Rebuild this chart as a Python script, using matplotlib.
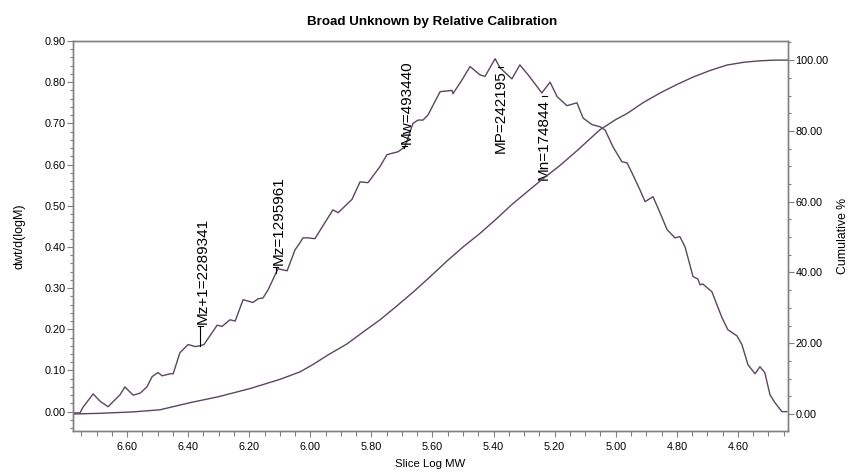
"""
Broad Unknown by Relative Calibration - MWD plot with cumulative curve.
"""

import numpy as np
import matplotlib
matplotlib.use('Agg')
import matplotlib.pyplot as plt
from matplotlib.ticker import MultipleLocator, FormatStrFormatter

plt.rcParams['font.family'] = ['Liberation Sans', 'DejaVu Sans']

# Differential distribution (dwt/d(logM))
log_mw = [6.777, 6.754, 6.745, 6.711, 6.688, 6.662, 6.646, 6.623, 6.607, 6.580,
          6.557, 6.535, 6.518, 6.499, 6.485, 6.459, 6.449, 6.427, 6.400, 6.377,
          6.361, 6.348, 6.305, 6.289, 6.263, 6.246, 6.220, 6.197, 6.188, 6.171,
          6.155, 6.138, 6.106, 6.076, 6.050, 6.034, 6.024, 6.008, 5.985, 5.926,
          5.909, 5.864, 5.837, 5.811, 5.772, 5.749, 5.729, 5.713, 5.690, 5.664,
          5.647, 5.631, 5.615, 5.575, 5.536, 5.533, 5.503, 5.477, 5.445, 5.428,
          5.395, 5.379, 5.340, 5.314, 5.287, 5.242, 5.215, 5.192, 5.160, 5.150,
          5.127, 5.107, 5.078, 5.052, 5.035, 5.009, 4.980, 4.963, 4.947, 4.921,
          4.904, 4.878, 4.855, 4.832, 4.806, 4.790, 4.773, 4.747, 4.731, 4.724,
          4.715, 4.685, 4.669, 4.652, 4.633, 4.603, 4.587, 4.567, 4.544, 4.528,
          4.512, 4.495, 4.479, 4.456, 4.440]
dwdlogm = [-0.003, -0.003, 0.010, 0.043, 0.025, 0.012, 0.024, 0.041, 0.060, 0.040,
           0.045, 0.060, 0.085, 0.095, 0.087, 0.092, 0.092, 0.143, 0.163, 0.158,
           0.160, 0.163, 0.210, 0.207, 0.223, 0.220, 0.272, 0.267, 0.265, 0.274,
           0.276, 0.296, 0.347, 0.342, 0.393, 0.410, 0.422, 0.422, 0.420, 0.490,
           0.483, 0.515, 0.558, 0.556, 0.595, 0.624, 0.628, 0.631, 0.643, 0.700,
           0.708, 0.708, 0.720, 0.777, 0.780, 0.772, 0.806, 0.838, 0.818, 0.814,
           0.857, 0.835, 0.808, 0.842, 0.818, 0.774, 0.800, 0.765, 0.743, 0.745,
           0.750, 0.713, 0.697, 0.692, 0.684, 0.643, 0.607, 0.604, 0.580, 0.539,
           0.510, 0.522, 0.483, 0.442, 0.422, 0.425, 0.400, 0.328, 0.322, 0.308,
           0.310, 0.291, 0.260, 0.228, 0.199, 0.184, 0.163, 0.114, 0.092, 0.109,
           0.095, 0.041, 0.022, 0.000, 0.000]

# Cumulative %
cum_log_mw = [6.777, 6.688, 6.580, 6.492, 6.394, 6.300, 6.197, 6.099, 6.034, 5.991,
              5.940, 5.880, 5.830, 5.772, 5.720, 5.664, 5.610, 5.553, 5.500, 5.445,
              5.390, 5.340, 5.290, 5.248, 5.183, 5.127, 5.052, 5.000, 4.963, 4.910,
              4.855, 4.800, 4.747, 4.690, 4.636, 4.580, 4.528, 4.480, 4.436]
cum_pct = [0.0, 0.2, 0.6, 1.2, 3.2, 4.9, 7.2, 9.8, 11.9, 14.0,
           16.8, 19.8, 23.0, 26.6, 30.3, 34.4, 38.6, 43.2, 47.2, 51.0,
           55.2, 59.2, 62.8, 65.8, 70.2, 74.4, 80.3, 83.2, 84.9, 88.0,
           90.7, 93.1, 95.2, 97.1, 98.6, 99.4, 99.8, 100.0, 100.0]

# Molecular weight averages
avg_names = ['Mz+1', 'Mz', 'Mw', 'MP', 'Mn']
avg_values = [2289341, 1295961, 493440, 242195, 174844]

line_color = '#5e4462'
spine_color = '#808080'

fig = plt.figure(figsize=(8.5, 4.74), dpi=100)
ax = fig.add_axes([73 / 850, 1 - 431 / 474, 715 / 850, 390 / 474])
ax2 = ax.twinx()

ax.plot(log_mw, dwdlogm, color=line_color, lw=1.0)
ax2.plot(cum_log_mw, cum_pct, color=line_color, lw=1.0)

ax.set_xlim(6.777, 4.436)
ax.set_ylim(-0.047, 0.90)
ax2.set_ylim(-4.8, 105.4)

ax.xaxis.set_major_locator(MultipleLocator(0.2))
ax.xaxis.set_minor_locator(MultipleLocator(0.05))
ax.xaxis.set_major_formatter(FormatStrFormatter('%.2f'))
ax.yaxis.set_major_locator(MultipleLocator(0.1))
ax.yaxis.set_minor_locator(MultipleLocator(0.02))
ax.yaxis.set_major_formatter(FormatStrFormatter('%.2f'))
ax2.yaxis.set_major_locator(MultipleLocator(20))
ax2.yaxis.set_minor_locator(MultipleLocator(5))
ax2.yaxis.set_major_formatter(FormatStrFormatter('%.2f'))

for a in (ax, ax2):
    for s in a.spines.values():
        s.set_color(spine_color)
        s.set_linewidth(1.0)

ax.tick_params(axis='x', which='major', length=4, width=0.8, color=spine_color,
               labelsize=7.8, pad=4)
ax.tick_params(axis='x', which='minor', length=3.5, width=0.8, color=spine_color)
ax.tick_params(axis='y', which='major', length=4.5, width=0.8, color=spine_color,
               labelsize=7.8, pad=1)
ax.tick_params(axis='y', which='minor', length=2.5, width=0.8, color=spine_color)
ax2.tick_params(axis='y', which='major', length=4.5, width=0.8, color=spine_color,
                labelsize=7.8, pad=1)
ax2.tick_params(axis='y', which='minor', length=2.5, width=0.8, color=spine_color)

ax.set_ylabel('dwt/d(logM)', fontsize=9)
ax.yaxis.set_label_coords(-0.067, 0.5)
ax2.set_ylabel('Cumulative %', fontsize=8.8)
ax2.yaxis.set_label_coords(1.0685, 0.5)
ax.set_xlabel('Slice Log MW', fontsize=8.2)
ax.xaxis.set_label_coords(0.5, -0.072)

fig.text(432 / 850, 1 - 22 / 474, 'Broad Unknown by Relative Calibration',
         ha='center', va='center', fontsize=9.6, fontweight='bold')

# marker labels; pixel sizes converted to data units
px_x = 1 / 305.5
px_y = 1 / 412.0
label_side = ['above', 'above', 'above', 'below', 'below']
label_gap = [20, 6, 2, 2, 3]
for name, val, side, gap in zip(avg_names, avg_values, label_side, label_gap):
    x = np.log10(val)
    yc = np.interp(x, log_mw[::-1], dwdlogm[::-1])
    if side == 'above':
        yd = yc + gap * px_y
        ax.plot([x, x], [yc, yd], color='black', lw=0.8)
        ax.plot([x + 2.5 * px_x, x - 2.5 * px_x], [yd, yd], color='black', lw=0.8)
        ax.text(x - 2.5 * px_x, yd + 2 * px_y, f'{name}={val}', rotation=90,
                ha='center', va='bottom', fontsize=11)
    else:
        yd = yc - gap * px_y
        ax.plot([x, x - 5 * px_x], [yd, yd], color='black', lw=0.8)
        ax.text(x - 2.5 * px_x, yd - 3 * px_y, f'{name}={val}', rotation=90,
                ha='center', va='top', fontsize=11)

fig.savefig('out.png', dpi=100)
